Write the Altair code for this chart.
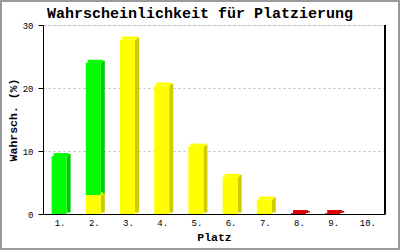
import altair as alt
import pandas as pd

title_text = "Wahrscheinlichkeit für Platzierung"
places = ["1.", "2.", "3.", "4.", "5.", "6.", "7.", "8.", "9.", "10."]
yellow = [0, 3.0, 27.7, 20.4, 10.7, 5.9, 2.3, 0, 0, 0]
green = [9.2, 21.0, 0, 0, 0, 0, 0, 0, 0, 0]
red = [0, 0, 0, 0, 0, 0, 0, 0.15, 0.15, 0]

series = [
    ("yellow", yellow, "#FFFF00", "#CCCC00"),
    ("green", green, "#00FF00", "#00CC00"),
    ("red", red, "#DD0000", "#AA0000"),
]

rows = []
base = [0.0] * len(places)
for name, vals, front, side in series:
    for i, v in enumerate(vals):
        if v > 0:
            rows.append(dict(place=places[i], lo=base[i], hi=base[i] + v,
                             front=front, side=side, order=len(rows)))
            base[i] += v
df = pd.DataFrame(rows)

FONT = "Liberation Mono"

x = alt.X("place:N", sort=places, title="Platz",
          scale=alt.Scale(domain=places, paddingInner=0, paddingOuter=0),
          axis=alt.Axis(labelAngle=0, ticks=False, domain=True, domainColor="black",
                        labelFont=FONT, labelFontSize=9, labelColor="black",
                        labelPadding=4, titleFont=FONT, titleFontSize=11.5,
                        titleFontWeight="bold", titleColor="black", titlePadding=4))
y = alt.Y("hi:Q", title="Wahrsch. (%)",
          scale=alt.Scale(domain=[0, 30], nice=False),
          axis=alt.Axis(values=[0, 10, 20, 30], grid=True, gridDash=[2, 3],
                        gridColor="#bbbbbb", domainColor="black", tickColor="black",
                        tickSize=5, labelFont=FONT, labelFontSize=9, labelColor="black",
                        labelPadding=5, titleFont=FONT, titleFontSize=11.5,
                        titleFontWeight="bold", titleColor="black", titlePadding=4))

basec = alt.Chart(df)

side = basec.mark_bar(width=4, xOffset=8.5, yOffset=-2, y2Offset=-1.5).encode(
    x=x, y=y, y2="lo:Q", color=alt.Color("side:N", scale=None), order="order:Q")
top = basec.mark_bar(width=15, xOffset=1, yOffset=-3, y2Offset=0).encode(
    x=x, y=y, y2="hi:Q", color=alt.Color("front:N", scale=None), order="order:Q")
front = basec.mark_bar(width=15, xOffset=-1).encode(
    x=x, y=y, y2="lo:Q", color=alt.Color("front:N", scale=None), order="order:Q")

right_line = basec.mark_rule(color="black", strokeWidth=1.5).encode(
    x=alt.value(342), y=alt.value(0), y2=alt.value(189))
frame = basec.mark_rect(fill=None, stroke="#999999", strokeWidth=2).encode(
    x=alt.value(-42), x2=alt.value(356), y=alt.value(-24), y2=alt.value(224))
title = alt.Chart(pd.DataFrame({"t": [title_text]})).mark_text(
    font=FONT, fontSize=15, fontWeight="bold", color="black",
    align="center", baseline="alphabetic").encode(
    text="t:N", x=alt.value(157), y=alt.value(-7))

chart = alt.layer(side, top, front, right_line, frame, title).properties(
    width=342, height=189,
    autosize=alt.AutoSizeParams(type="none"),
    padding={"left": 43, "top": 25, "right": 15, "bottom": 36},
).configure_view(stroke=None).configure(background="white")

chart.save("out.html", embed_options={"renderer": "svg", "actions": False})
